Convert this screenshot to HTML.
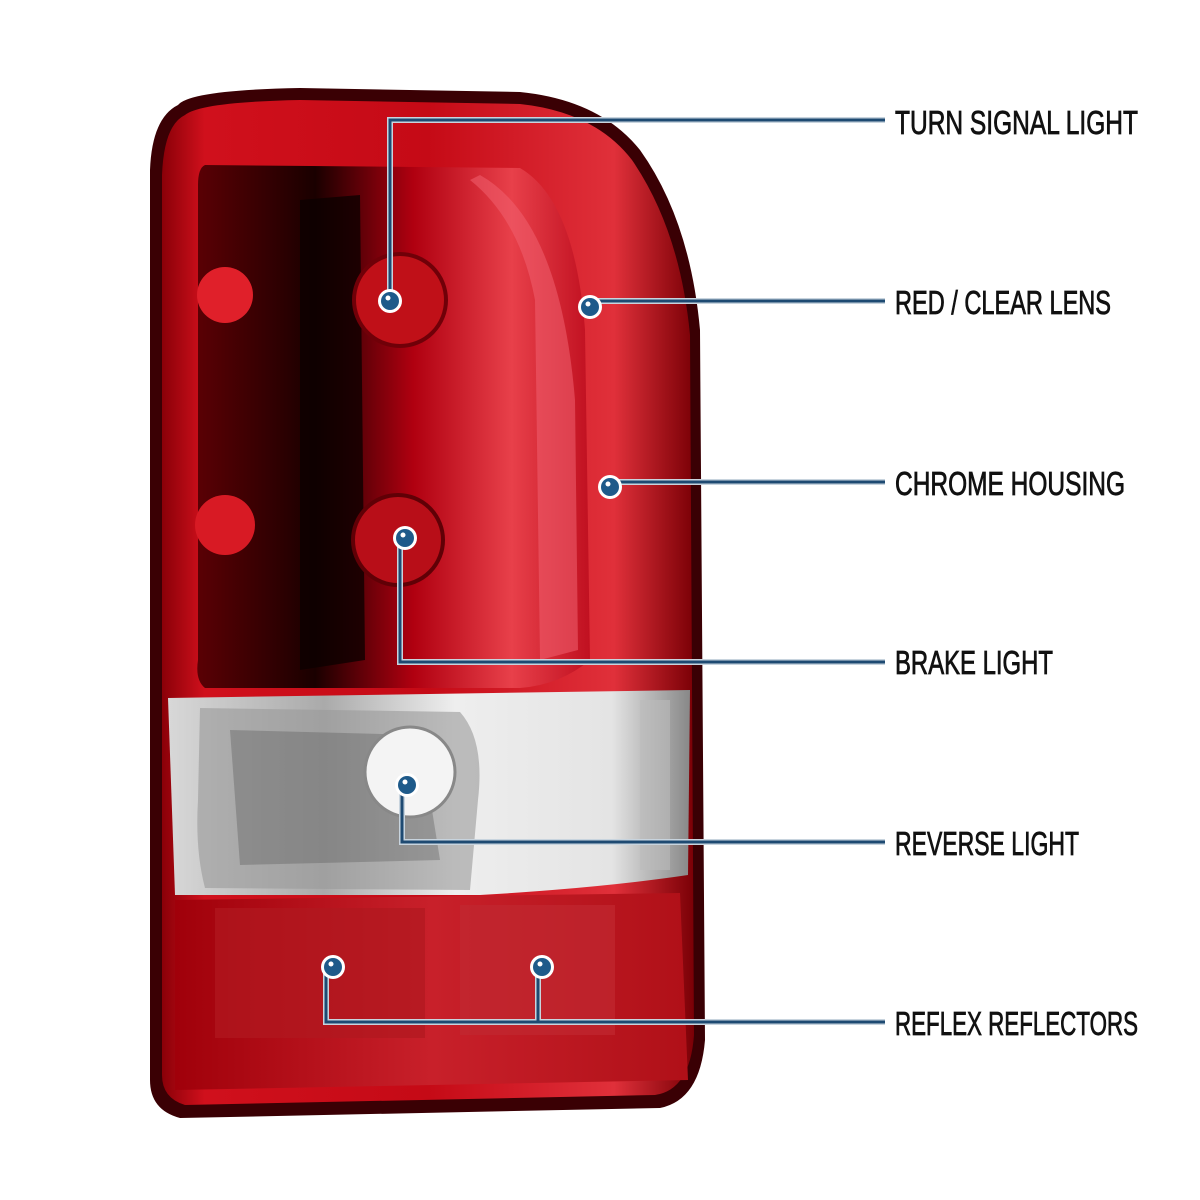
<!DOCTYPE html>
<html><head><meta charset="utf-8"><style>
html,body{margin:0;padding:0;background:#fff}
svg{display:block}
text{font-family:"Liberation Sans Narrow","Liberation Sans",sans-serif;font-size:33px;fill:#111;stroke:#111;stroke-width:0.8px}
</style></head><body>
<svg width="1200" height="1200" viewBox="0 0 1200 1200" xmlns="http://www.w3.org/2000/svg">
<defs>
<linearGradient id="body" x1="0" x2="1" y1="0" y2="0">
<stop offset="0" stop-color="#8a0008"/><stop offset="0.08" stop-color="#d0101c"/><stop offset="0.5" stop-color="#c50a16"/><stop offset="0.85" stop-color="#e0303a"/><stop offset="1" stop-color="#7a0006"/>
</linearGradient>
<linearGradient id="inner" x1="0" x2="1">
<stop offset="0" stop-color="#5a0004"/><stop offset="0.3" stop-color="#1a0000"/><stop offset="0.55" stop-color="#b00010"/><stop offset="0.8" stop-color="#e8404a"/><stop offset="1" stop-color="#c01020"/>
</linearGradient>
<linearGradient id="clear" x1="0" x2="1">
<stop offset="0" stop-color="#d8d8d8"/><stop offset="0.3" stop-color="#aaa"/><stop offset="0.55" stop-color="#eee"/><stop offset="0.85" stop-color="#e4e4e4"/><stop offset="1" stop-color="#888"/>
</linearGradient>
<linearGradient id="refl" x1="0" x2="1">
<stop offset="0" stop-color="#a0000a"/><stop offset="0.5" stop-color="#c8202a"/><stop offset="1" stop-color="#b01018"/>
</linearGradient>
</defs>
<path d="M178,105 Q190,90 300,88 L520,92 Q600,100 640,150 Q690,220 700,330 L705,1040 Q700,1100 660,1108 L180,1118 Q150,1110 150,1080 L150,170 Q152,118 178,105 Z" fill="#3a0004"/>
<path d="M185,115 Q200,102 300,100 L520,104 Q595,112 632,160 Q680,230 690,335 L694,1035 Q690,1090 655,1095 L185,1105 Q162,1098 162,1075 L162,175 Q164,125 185,115 Z" fill="url(#body)"/>
<path d="M205,165 L520,168 Q575,200 585,330 L590,660 Q560,685 520,688 L205,688 Q195,680 198,660 L198,185 Q198,168 205,165 Z" fill="url(#inner)"/>
<path d="M300,200 L360,195 L365,660 L300,670 Z" fill="#0d0000" opacity="0.8"/>
<circle cx="225" cy="295" r="28" fill="#e0202a"/>
<circle cx="225" cy="525" r="30" fill="#d81a24"/>
<circle cx="400" cy="300" r="46" fill="#c01018" stroke="#700008" stroke-width="4"/>
<circle cx="398" cy="540" r="45" fill="#b80e18" stroke="#600006" stroke-width="4"/>
<path d="M480,175 Q560,220 575,400 L578,650 L540,660 L535,300 Q520,220 470,180 Z" fill="#f06070" opacity="0.55"/>
<path d="M168,698 L690,690 L688,875 Q600,888 480,895 L175,895 Z" fill="url(#clear)"/>
<path d="M200,708 L460,712 Q485,740 478,800 L470,890 L205,888 Q195,850 198,800 Z" fill="#9a9a9a" opacity="0.6"/>
<path d="M230,730 L420,735 L440,860 L240,865 Z" fill="#555" opacity="0.35"/>
<circle cx="410" cy="772" r="45" fill="#f4f4f4" stroke="#888" stroke-width="3"/>
<rect x="640" y="700" width="30" height="170" fill="#bbb" opacity="0.6"/>
<path d="M175,900 L680,893 L688,1080 L175,1090 Z" fill="url(#refl)"/>
<rect x="215" y="908" width="210" height="130" fill="#b01820" opacity="0.7"/>
<rect x="460" y="905" width="155" height="130" fill="#c02830" opacity="0.7"/>
<g fill="none" stroke-linejoin="miter">
<g stroke="#c8d4de" stroke-width="6">
<path d="M390,301 V120 H885"/><path d="M590,301 H885"/><path d="M610,482 H885"/>
<path d="M400,538 V662 H885"/><path d="M402,785 V842 H885"/>
<path d="M326,967 V1022 H885"/><path d="M538,967 V1022"/>
</g>
<g stroke="#1e4a72" stroke-width="3">
<path d="M390,301 V120 H885"/><path d="M590,301 H885"/><path d="M610,482 H885"/>
<path d="M400,538 V662 H885"/><path d="M402,785 V842 H885"/>
<path d="M326,967 V1022 H885"/><path d="M538,967 V1022"/>
</g>
</g>
<g>
<g fill="#fff"><circle cx="390" cy="301" r="12"/><circle cx="590" cy="307" r="12"/><circle cx="610" cy="487" r="12"/><circle cx="405" cy="538" r="12"/><circle cx="407" cy="785" r="12"/><circle cx="333" cy="967" r="12"/><circle cx="542" cy="967" r="12"/></g>
<g fill="#1e5a8a"><circle cx="390" cy="301" r="9"/><circle cx="590" cy="307" r="9"/><circle cx="610" cy="487" r="9"/><circle cx="405" cy="538" r="9"/><circle cx="407" cy="785" r="9"/><circle cx="333" cy="967" r="9"/><circle cx="542" cy="967" r="9"/></g>
<g fill="#fff"><circle cx="388" cy="298" r="2.5"/><circle cx="588" cy="304" r="2.5"/><circle cx="608" cy="484" r="2.5"/><circle cx="403" cy="535" r="2.5"/><circle cx="405" cy="782" r="2.5"/><circle cx="331" cy="964" r="2.5"/><circle cx="540" cy="964" r="2.5"/></g>
</g>
<text x="895" y="134" textLength="243" lengthAdjust="spacingAndGlyphs">TURN SIGNAL LIGHT</text>
<text x="895" y="314" textLength="216" lengthAdjust="spacingAndGlyphs">RED / CLEAR LENS</text>
<text x="895" y="495" textLength="230" lengthAdjust="spacingAndGlyphs">CHROME HOUSING</text>
<text x="895" y="674" textLength="158" lengthAdjust="spacingAndGlyphs">BRAKE LIGHT</text>
<text x="895" y="855" textLength="184" lengthAdjust="spacingAndGlyphs">REVERSE LIGHT</text>
<text x="895" y="1035" textLength="243" lengthAdjust="spacingAndGlyphs">REFLEX REFLECTORS</text>
</svg>
</body></html>
